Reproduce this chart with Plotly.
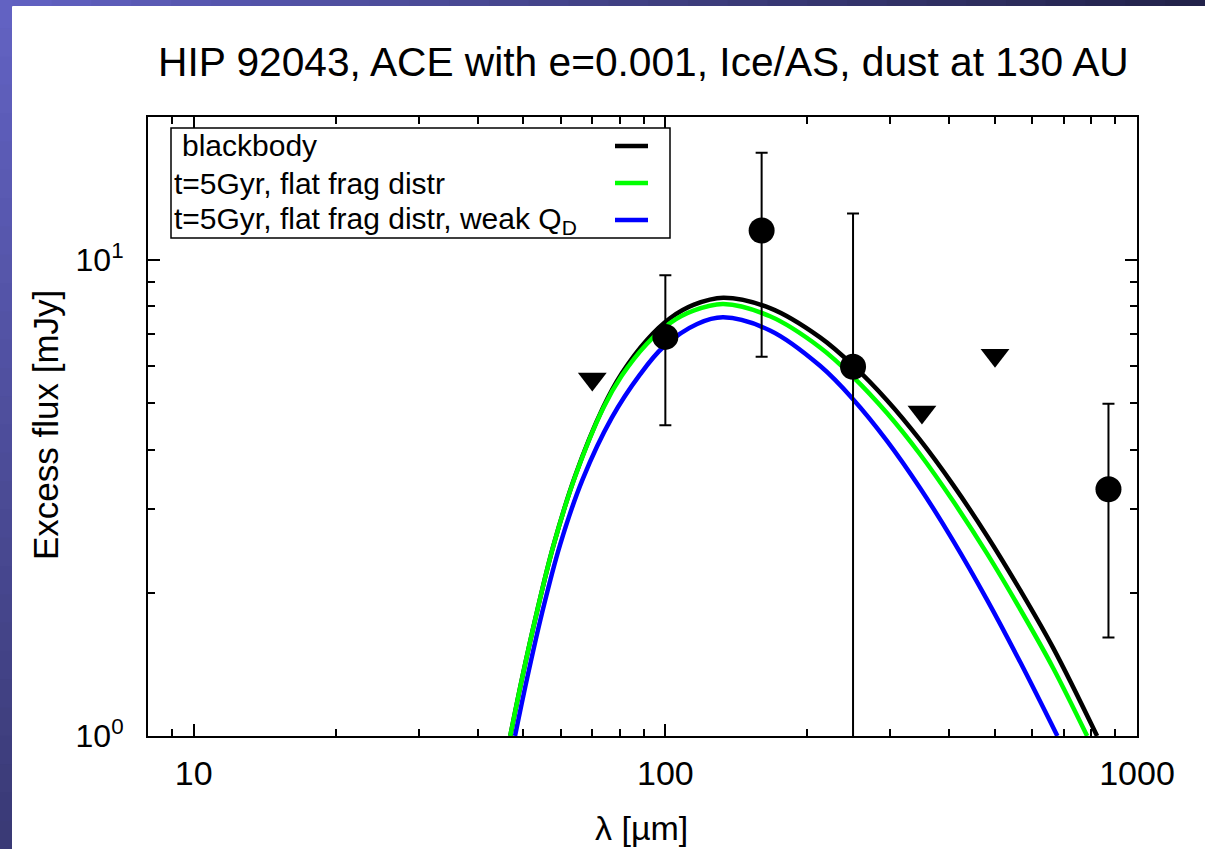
import math
import plotly.graph_objects as go

# ---------------- data ----------------
bb_lam = [46.9, 49.6, 53.4, 57.9, 64.4, 73.9, 80.8, 91.3, 102.3, 114.7, 132.7, 166.7,
          212.8, 250, 295, 346.7, 407.4, 481, 565, 664, 823]
bb_flux = [1.0, 1.312, 1.820, 2.512, 3.524, 4.920, 5.781, 6.792, 7.551, 8.054, 8.337, 7.928,
           6.882, 6.010, 5.078, 4.190, 3.371, 2.633, 2.028, 1.532, 1.0]

flat_lam = [46.9, 49.6, 53.4, 57.9, 64.4, 73.9, 80.8, 91.3, 102.3, 114.7, 132.7, 166.7,
            212.8, 250, 295, 346.7, 407.4, 481, 565, 664, 784]
flat_flux = [1.0, 1.312, 1.820, 2.512, 3.516, 4.898, 5.715, 6.668, 7.379, 7.834, 8.091, 7.624,
             6.557, 5.686, 4.772, 3.910, 3.117, 2.417, 1.849, 1.390, 1.0]

weak_lam = [48.0, 50.9, 54.7, 59.8, 66.8, 76.9, 88.4, 99.0, 116.8, 132.7, 166.7,
            212.8, 250, 295, 346.7, 407.4, 481, 565, 678]
weak_flux = [1.0, 1.320, 1.805, 2.523, 3.467, 4.656, 5.754, 6.571, 7.345, 7.586, 7.117,
             5.998, 5.105, 4.173, 3.322, 2.575, 1.933, 1.432, 1.0]

obs_lam = [100, 160, 250, 870]
obs_flux = [6.9, 11.55, 5.97, 3.3]
obs_err = [2.4, 5.28, 6.56, 1.69]

lim_lam = [70, 350, 500]
lim_flux = [5.63, 4.80, 6.31]

x_tick_vals = [10, 100, 1000]
x_tick_text = ["10", "100", "1000"]
x_minor_vals = [9, 20, 30, 40, 50, 60, 70, 80, 90, 200, 300, 400, 500, 600, 700, 800, 900]
y_tick_vals = [1, 10]
y_tick_text = ["10<sup>0</sup>", "10<sup>1</sup>"]
y_minor_vals = [2, 3, 4, 5, 6, 7, 8, 9]

series_names = ["blackbody", "t=5Gyr, flat frag distr", "t=5Gyr, flat frag distr, weak Q<sub>D</sub>"]
series_colors = ["#000000", "#00ff00", "#0000ff"]

title_text = "HIP 92043, ACE with e=0.001, Ice/AS, dust at 130 AU"
x_title = "λ [µm]"
y_title = "Excess flux [mJy]"

# ---------------- layout geometry ----------------
W, H = 1205, 849
L, R, T, B = 148, 1137, 117, 736
FONT = "Liberation Sans, Arial, Helvetica, sans-serif"


def px(x):
    return (x - L) / (R - L)


def py(y):
    return (B - y) / (B - T)


def mix(c1, c2, t):
    a = [int(c1[i:i + 2], 16) for i in (1, 3, 5)]
    b = [int(c2[i:i + 2], 16) for i in (1, 3, 5)]
    return "#%02x%02x%02x" % tuple(round(a[k] + (b[k] - a[k]) * t) for k in range(3))


fig = go.Figure()

curves = [(bb_lam, bb_flux), (flat_lam, flat_flux), (weak_lam, weak_flux)]
for (lx, fy), name, col in zip(curves, series_names, series_colors):
    fig.add_trace(go.Scatter(x=lx, y=fy, mode="lines", name=name,
                             line=dict(color=col, width=4.5, shape="spline", smoothing=1.0),
                             showlegend=False))

fig.add_trace(go.Scatter(x=obs_lam, y=obs_flux, mode="markers", name="photometry",
                         marker=dict(symbol="circle", size=26, color="black"),
                         error_y=dict(type="data", array=obs_err, visible=True,
                                      color="black", thickness=2, width=6),
                         showlegend=False))
fig.add_trace(go.Scatter(x=lim_lam, y=lim_flux, mode="markers", name="upper limits",
                         marker=dict(symbol="triangle-down", size=25, color="black"),
                         showlegend=False))

shapes = []
# background frame gradient (left strip and top strip), overlapping bands
nb = 30
for i in range(nb):
    y0 = H * i / nb
    y1 = min(H, H * (i + 1) / nb + 2)
    shapes.append(dict(type="rect", xref="paper", yref="paper",
                       x0=px(0), x1=px(12), y0=py(y1), y1=py(y0),
                       fillcolor=mix("#6262c2", "#3a3a76", i / (nb - 1)),
                       line=dict(width=0), layer="below"))
for i in range(nb):
    x0 = 12 + (W - 12) * i / nb
    x1 = min(W, 12 + (W - 12) * (i + 1) / nb + 2)
    shapes.append(dict(type="rect", xref="paper", yref="paper",
                       x0=px(x0), x1=px(x1), y0=py(6), y1=py(0),
                       fillcolor=mix("#6060c0", "#22224a", i / (nb - 1)),
                       line=dict(width=0), layer="below"))
shapes.append(dict(type="rect", xref="paper", yref="paper",
                   x0=px(0), x1=px(12.5), y0=py(6.5), y1=py(0),
                   fillcolor="#6262c2", line=dict(width=0), layer="below"))

# manual key box (text left, sample right, like gnuplot)
shapes.append(dict(type="rect", xref="paper", yref="paper",
                   x0=px(171), x1=px(670), y0=py(238), y1=py(128),
                   fillcolor="white", line=dict(color="black", width=1.5), layer="above"))
key_y = [146, 183, 220]
key_x = [180, 172, 172]
annotations = []
for name, col, ky, kx in zip(series_names, series_colors, key_y, key_x):
    shapes.append(dict(type="line", xref="paper", yref="paper",
                       x0=px(615), x1=px(648), y0=py(ky), y1=py(ky),
                       line=dict(color=col, width=4.5), layer="above"))
    annotations.append(dict(text=name, xref="paper", yref="paper",
                            x=px(kx), y=py(ky), xanchor="left", yanchor="middle",
                            showarrow=False, font=dict(family=FONT, size=30, color="black")))

annotations.append(dict(text=title_text, xref="paper", yref="paper",
                        x=px(643.5), y=py(62), xanchor="center", yanchor="middle",
                        showarrow=False, font=dict(family=FONT, size=40.7, color="black")))
annotations.append(dict(text=x_title, xref="paper", yref="paper",
                        x=px(641), y=py(828), xanchor="center", yanchor="middle",
                        showarrow=False, font=dict(family=FONT, size=34, color="black")))
annotations.append(dict(text=y_title, xref="paper", yref="paper",
                        x=px(45), y=py(425), xanchor="center", yanchor="middle",
                        textangle=-90,
                        showarrow=False, font=dict(family=FONT, size=35, color="black")))

axis_common = dict(type="log", showline=True, linecolor="black", linewidth=2,
                   mirror="allticks", ticks="inside", ticklen=12, tickwidth=1.5,
                   tickcolor="black", showgrid=False, zeroline=False)

fig.update_layout(
    width=W, height=H,
    margin=dict(l=L, r=W - R, t=T, b=H - B, pad=0),
    paper_bgcolor="white", plot_bgcolor="white",
    xaxis=dict(range=[math.log10(8), 3], tickmode="array", tickvals=x_tick_vals,
               ticktext=x_tick_text, ticklabelstandoff=6,
               tickfont=dict(family=FONT, size=34, color="black"),
               minor=dict(ticks="inside", ticklen=7, tickwidth=1.5, tickcolor="black",
                          tickmode="array", tickvals=x_minor_vals, showgrid=False),
               **axis_common),
    yaxis=dict(range=[0, math.log10(20)], tickmode="array", tickvals=y_tick_vals,
               ticktext=y_tick_text, ticklabelstandoff=16,
               tickfont=dict(family=FONT, size=32, color="black"),
               minor=dict(ticks="inside", ticklen=7, tickwidth=1.5, tickcolor="black",
                          tickmode="array", tickvals=y_minor_vals, showgrid=False),
               **axis_common),
    shapes=shapes, annotations=annotations, showlegend=False,
)

fig.write_html("out.html")
